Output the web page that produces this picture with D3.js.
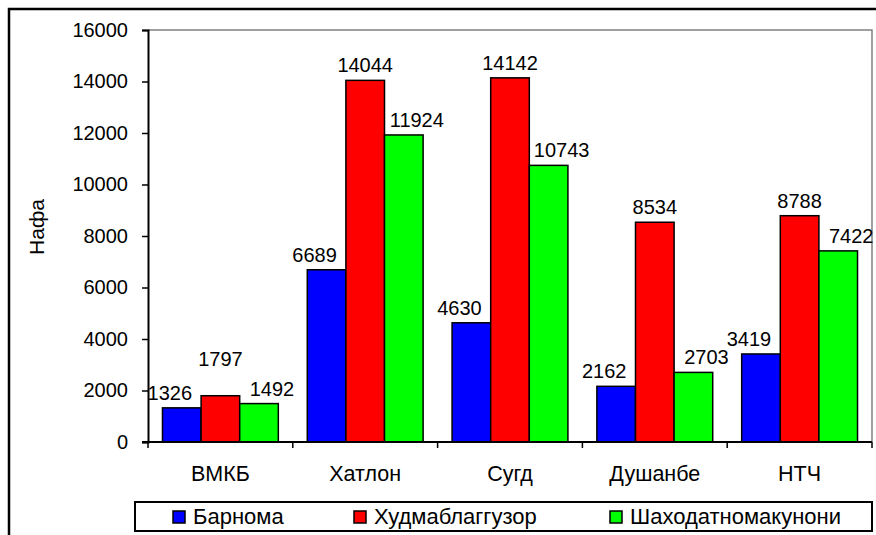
<!DOCTYPE html>
<html>
<head>
<meta charset="utf-8">
<script src="https://cdn.jsdelivr.net/npm/d3@7"></script>
<style>
  body { margin: 0; background: #fff; }
  svg { display: block; font-family: "Liberation Sans", Arial, sans-serif; }
</style>
</head>
<body>
<script>
'use strict';

const categories = ["ВМКБ", "Хатлон", "Сугд", "Душанбе", "НТЧ"];
const seriesNames = ["Барнома", "Худмаблаггузор", "Шаходатномакунони"];
const barnoma = [1326, 6689, 4630, 2162, 3419];
const khudmablag = [1797, 14044, 14142, 8534, 8788];
const shakhodat = [1492, 11924, 10743, 2703, 7422];
const yTicks = [0, 2000, 4000, 6000, 8000, 10000, 12000, 14000, 16000];

const colors = ["#0000ff", "#ff0000", "#00ff00"];
const labelShift = [-12, 0, 13]; // excel pushes side labels outward
const seriesValues = [barnoma, khudmablag, shakhodat];

const W = 876, H = 535;
const plot = {left: 148, right: 872, top: 30, bottom: 442};

const svg = d3.select("body").append("svg")
    .attr("width", W)
    .attr("height", H);

// outer chart frame
svg.append("rect")
    .attr("x", 9).attr("y", 9)
    .attr("width", 900).attr("height", 600)
    .attr("fill", "#fff")
    .attr("stroke", "#000")
    .attr("stroke-width", 2.5);

const x = d3.scaleBand()
    .domain(categories)
    .range([plot.left, plot.right])
    .paddingInner(0).paddingOuter(0);

const xs = d3.scaleBand()
    .domain(d3.range(seriesNames.length))
    .range([0, x.bandwidth()])
    .paddingInner(0).paddingOuter(0.375);

const y = d3.scaleLinear()
    .domain([0, 16000])
    .range([plot.bottom, plot.top]);

// plot area border (grey top/right)
svg.append("path")
    .attr("d", `M${plot.left},${plot.top}H${plot.right}V${plot.bottom}`)
    .attr("fill", "none")
    .attr("stroke", "#808080")
    .attr("stroke-width", 1.5);

// bars
const groups = svg.selectAll(".cat")
    .data(categories)
  .enter().append("g")
    .attr("class", "cat")
    .attr("transform", (d) => `translate(${x(d)},0)`);

groups.each(function(cat, ci) {
  const g = d3.select(this);
  const labelY = seriesValues.map((vals) => y(vals[ci]) - 8);
  // middle label gets lifted when it would collide with its neighbours
  const sideMin = Math.min(labelY[0], labelY[2]);
  if (Math.abs(labelY[1] - sideMin) < 20) labelY[1] = sideMin - 30;

  seriesValues.forEach((vals, si) => {
    const v = vals[ci];
    g.append("rect")
        .attr("x", xs(si))
        .attr("y", y(v))
        .attr("width", xs.bandwidth())
        .attr("height", y(0) - y(v))
        .attr("fill", colors[si])
        .attr("stroke", "#000")
        .attr("stroke-width", 1.5);
    g.append("text")
        .attr("x", xs(si) + xs.bandwidth() / 2 + labelShift[si])
        .attr("y", labelY[si])
        .attr("text-anchor", "middle")
        .attr("font-size", 20)
        .attr("fill", "#000")
        .text(v);
  });
});

// y axis
const yAxis = svg.append("g")
    .attr("transform", `translate(${plot.left},0)`)
    .call(d3.axisLeft(y).tickValues(yTicks).tickSize(6).tickPadding(14).tickFormat(d3.format("d")));
yAxis.select(".domain").attr("stroke", "#000").attr("stroke-width", 2);
yAxis.selectAll(".tick line").attr("stroke", "#000").attr("stroke-width", 1.5);
yAxis.selectAll(".tick text").attr("font-size", 20).attr("fill", "#000")
    .attr("font-family", "Liberation Sans, Arial, sans-serif");

// x axis: ticks between categories
const xAxis = svg.append("g")
    .attr("transform", `translate(0,${plot.bottom})`);
xAxis.append("line")
    .attr("x1", plot.left - 6).attr("x2", plot.right)
    .attr("stroke", "#000").attr("stroke-width", 2);
xAxis.selectAll(".xt")
    .data(categories.concat([null]))
  .enter().append("line")
    .attr("x1", (d, i) => plot.left + i * x.step())
    .attr("x2", (d, i) => plot.left + i * x.step())
    .attr("y1", 0).attr("y2", 6)
    .attr("stroke", "#000").attr("stroke-width", 1.5);
xAxis.selectAll(".xl")
    .data(categories)
  .enter().append("text")
    .attr("x", (d) => x(d) + x.bandwidth() / 2)
    .attr("y", 39)
    .attr("text-anchor", "middle")
    .attr("font-size", 21.5)
    .text((d) => d);

// y title
svg.append("text")
    .attr("transform", "translate(44,227) rotate(-90)")
    .attr("text-anchor", "middle")
    .attr("font-size", 21)
    .text("Нафа");

// legend
const legend = svg.append("g");
legend.append("rect")
    .attr("x", 135).attr("y", 502)
    .attr("width", 737).attr("height", 29)
    .attr("fill", "#fff")
    .attr("stroke", "#000")
    .attr("stroke-width", 2);
const legendX = [173, 354, 610];
seriesNames.forEach((name, i) => {
  legend.append("rect")
      .attr("x", legendX[i]).attr("y", 511)
      .attr("width", 12).attr("height", 12)
      .attr("fill", colors[i])
      .attr("stroke", "#000")
      .attr("stroke-width", 1.5);
  legend.append("text")
      .attr("x", legendX[i] + 20)
      .attr("y", 524)
      .attr("font-size", 22)
      .text(name);
});
</script>
</body>
</html>
